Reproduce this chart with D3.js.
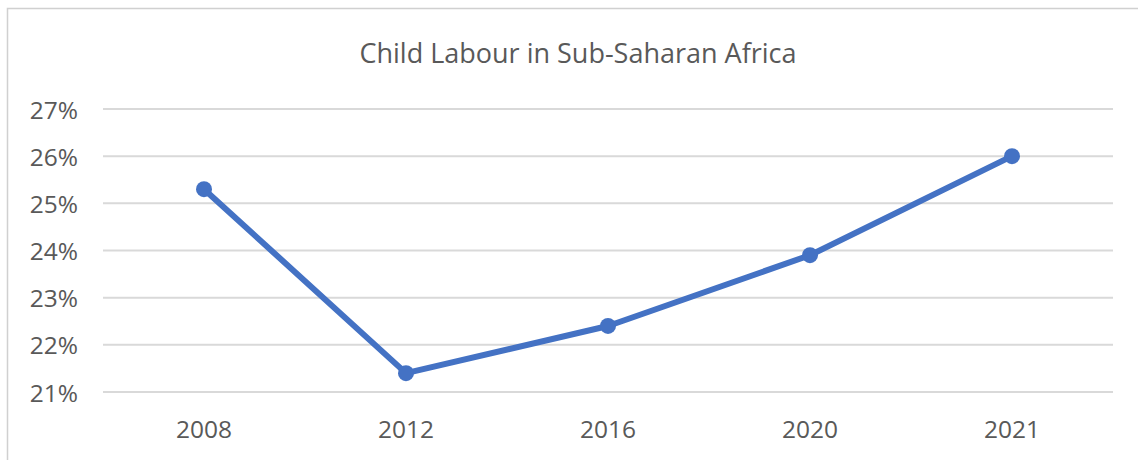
<!DOCTYPE html>
<html>
<head>
<meta charset="utf-8">
<script src="https://cdn.jsdelivr.net/npm/d3@7"></script>
<style>
  body { margin: 0; background: #fff; }
  svg { display: block; font-family: "Open Sans", "Noto Sans", sans-serif; }
</style>
</head>
<body>
<div id="chart"></div>
<script>
// Chart data
var years = ["2008", "2012", "2016", "2020", "2021"];
var childLabour = [25.3, 21.4, 22.4, 23.9, 26.0];
var yTicks = [21, 22, 23, 24, 25, 26, 27];
var chartTitle = "Child Labour in Sub-Saharan Africa";

var width = 1138, height = 460;
var margin = { top: 109, right: 25, bottom: 68, left: 103 };

var svg = d3.select("#chart").append("svg")
    .attr("width", width)
    .attr("height", height);

// Chart frame
svg.append("rect")
    .attr("x", 7.5)
    .attr("y", 8.5)
    .attr("width", width + 20)
    .attr("height", height + 20)
    .attr("fill", "#fff")
    .attr("stroke", "#d0d0d0")
    .attr("stroke-width", 1.5);

var x = d3.scaleBand()
    .domain(years)
    .range([margin.left, width - margin.right]);

var y = d3.scaleLinear()
    .domain([21, 27])
    .range([height - margin.bottom, margin.top]);

// Gridlines
svg.append("g")
    .selectAll("line")
    .data(yTicks)
    .enter().append("line")
    .attr("x1", margin.left)
    .attr("x2", width - margin.right)
    .attr("y1", d => y(d))
    .attr("y2", d => y(d))
    .attr("stroke", "#d9d9d9")
    .attr("stroke-width", 2);

// Y axis labels
svg.append("g")
    .selectAll("text")
    .data(yTicks)
    .enter().append("text")
    .attr("x", 78)
    .attr("y", d => y(d))
    .attr("text-anchor", "end")
    .attr("dominant-baseline", "central")
    .style("font-size", "24.5px")
    .style("fill", "#595959")
    .text(d => d + "%");

// X axis labels
svg.append("g")
    .selectAll("text")
    .data(years)
    .enter().append("text")
    .attr("x", d => x(d) + x.bandwidth() / 2)
    .attr("y", 428)
    .attr("text-anchor", "middle")
    .attr("dominant-baseline", "central")
    .style("font-size", "24.5px")
    .style("fill", "#595959")
    .text(d => d);

// Line + markers
var points = years.map((yr, i) => ({ year: yr, value: childLabour[i] }));

var line = d3.line()
    .x(d => x(d.year) + x.bandwidth() / 2)
    .y(d => y(d.value));

svg.append("path")
    .datum(points)
    .attr("d", line)
    .attr("fill", "none")
    .attr("stroke", "#4472c4")
    .attr("stroke-width", 6)
    .attr("stroke-linejoin", "round");

svg.append("g")
    .selectAll("circle")
    .data(points)
    .enter().append("circle")
    .attr("cx", d => x(d.year) + x.bandwidth() / 2)
    .attr("cy", d => y(d.value))
    .attr("r", 8)
    .attr("fill", "#4472c4");

// Title
svg.append("text")
    .attr("x", 578)
    .attr("y", 52)
    .attr("text-anchor", "middle")
    .attr("dominant-baseline", "central")
    .style("font-size", "27px")
    .style("fill", "#595959")
    .text(chartTitle);
</script>
</body>
</html>
